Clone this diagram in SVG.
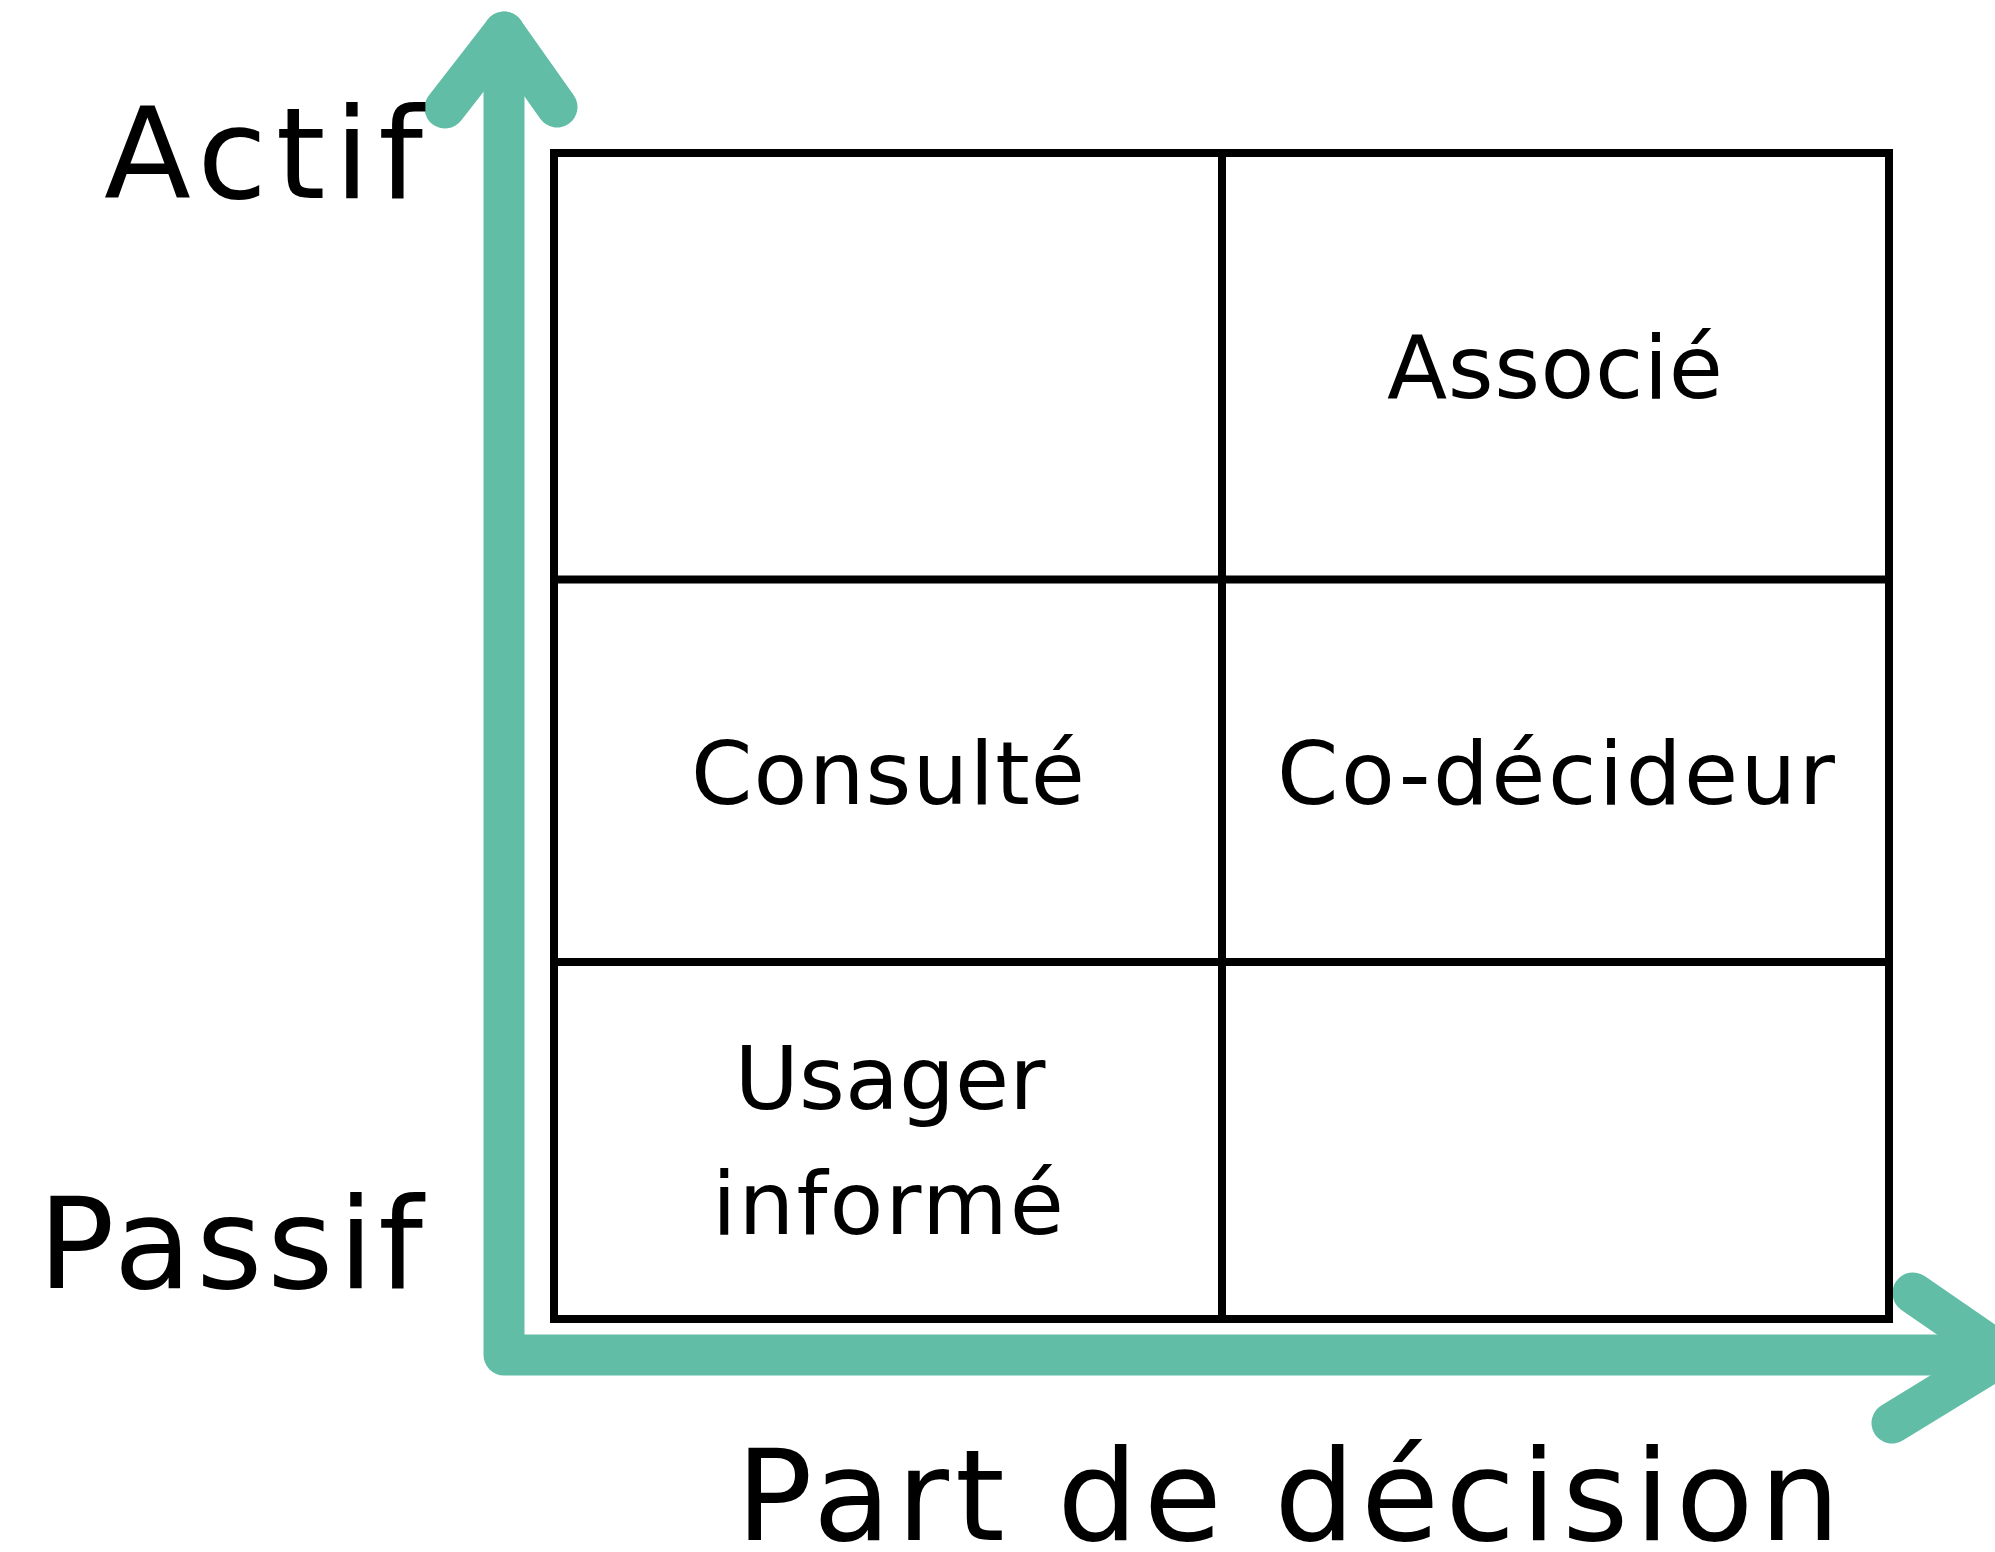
<svg xmlns="http://www.w3.org/2000/svg" width="1995" height="1552" viewBox="0 0 1995 1552">
<style>
.axis{fill:none;stroke:#62BDA7;stroke-width:41;stroke-linecap:round;stroke-linejoin:round}
.grid{fill:none;stroke:#000;stroke-width:8}
.big{font-family:"DejaVu Sans",sans-serif;font-size:127px;fill:#000}
.lbl{font-family:"DejaVu Sans",sans-serif;font-size:88px;fill:#000;text-anchor:middle}
</style>
<rect width="1995" height="1552" fill="#fff"/>
<g id="connectors">
<path class="axis" d="M504,32 L504,1355 L2003,1355"/>
<path class="axis" d="M445,108 L504,32 L557,107"/>
<path class="axis" d="M1913,1293 L2003,1355 L1892,1423"/>
</g>
<g id="grid">
<rect class="grid" x="554" y="153" width="1335" height="1166"/>
<line class="grid" x1="1222" y1="153" x2="1222" y2="1319"/>
<line class="grid" x1="554" y1="579.5" x2="1889" y2="579.5"/>
<line class="grid" x1="554" y1="962" x2="1889" y2="962"/>
</g>
<g id="axis-labels">
<text class="big" x="104" y="198" textLength="319">Actif</text>
<text class="big" x="38" y="1288" textLength="385">Passif</text>
<text class="big" x="736" y="1540" textLength="1104">Part de décision</text>
</g>
<g id="associe"><text class="lbl" x="1555" y="398" textLength="336">Associé</text></g>
<g id="consulte"><text class="lbl" x="888" y="804" textLength="394">Consulté</text></g>
<g id="codecideur"><text class="lbl" x="1556" y="804" textLength="558">Co-décideur</text></g>
<g id="usager-informe">
<text class="lbl" x="890" y="1109" textLength="311">Usager</text>
<text class="lbl" x="888" y="1234" textLength="352">informé</text>
</g>
</svg>
